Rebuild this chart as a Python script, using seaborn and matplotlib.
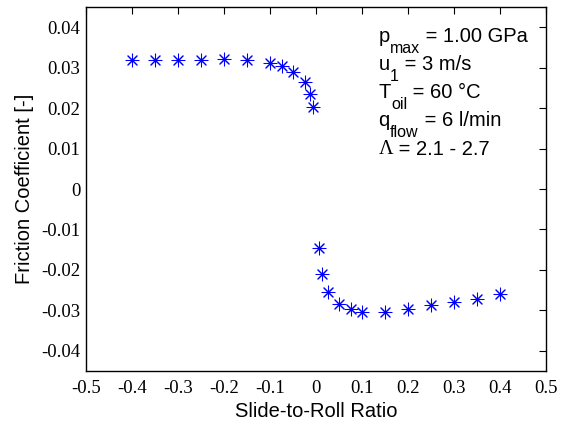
import numpy as np
import pandas as pd
import matplotlib
matplotlib.use("Agg")
import matplotlib.pyplot as plt
import seaborn as sns

# ---- data ----
slide_to_roll = [-0.40, -0.35, -0.30, -0.25, -0.20, -0.15, -0.10, -0.075, -0.05,
                 -0.025, -0.013, -0.006,
                 0.0065, 0.014, 0.026, 0.051, 0.075, 0.10, 0.15, 0.20, 0.25,
                 0.30, 0.35, 0.40]
friction = [0.0320, 0.0320, 0.0320, 0.0320, 0.0321, 0.0320, 0.0313, 0.0305, 0.0291,
            0.0265, 0.0235, 0.0204,
            -0.0145, -0.0211, -0.0254, -0.0285, -0.0298, -0.0304, -0.0304, -0.0298,
            -0.0287, -0.0280, -0.0272, -0.0260]

x_ticks = [-0.5, -0.4, -0.3, -0.2, -0.1, 0.0, 0.1, 0.2, 0.3, 0.4, 0.5]
x_tick_labels = ["-0.5", "-0.4", "-0.3", "-0.2", "-0.1", "0", "0.1", "0.2", "0.3", "0.4", "0.5"]
y_ticks = [-0.04, -0.03, -0.02, -0.01, 0.0, 0.01, 0.02, 0.03, 0.04]
y_tick_labels = ["-0.04", "-0.03", "-0.02", "-0.01", "0", "0.01", "0.02", "0.03", "0.04"]

# (symbol, subscript, remainder)
annot_symbols = ["p", "u", "T", "q", "\u039b"]
annot_subs = ["max", "1", "oil", "flow", ""]
annot_rest = [" = 1.00 GPa", " = 3 m/s", " = 60 \u00b0C", " = 6 l/min", " = 2.1 - 2.7"]

# ---- style ----
sns.set_theme(style="white")
plt.rcParams["font.family"] = ["Liberation Sans", "DejaVu Sans"]
plt.rcParams["axes.unicode_minus"] = False

fig = plt.figure(figsize=(5.63, 4.21), dpi=100)
ax = fig.add_axes([86 / 563, 1 - 370.7 / 421, 460 / 563, 363.4 / 421])

df = pd.DataFrame({"srr": slide_to_roll, "cof": friction})
sns.scatterplot(data=df, x="srr", y="cof", marker=(8, 2, 0), color="blue",
                s=85, linewidth=0.75, ax=ax, legend=False, zorder=3)

ax.set_xlim(-0.5, 0.5)
ax.set_ylim(-0.045, 0.045)
ax.set_xticks(x_ticks)
ax.set_xticklabels(x_tick_labels, fontfamily="Liberation Serif", fontsize=13.5)
ax.set_yticks(y_ticks)
ax.set_yticklabels(y_tick_labels, fontfamily="Liberation Serif", fontsize=13.5)
ax.tick_params(direction="in", top=True, right=True, length=5, width=0.8,
               color="black", labelcolor="black")
ax.tick_params(axis="x", pad=7)
ax.tick_params(axis="y", pad=4)
for sp in ax.spines.values():
    sp.set_color("black")
    sp.set_linewidth(1.0)

ax.set_xlabel("Slide-to-Roll Ratio", fontsize=14.5, color="black", labelpad=3)
ax.set_ylabel("Friction Coefficient [-]", fontsize=14.5, color="black", labelpad=5)

y0 = 0.0363
fs_main = 14.5
fs_sub = 11.5
for i, (sym, sub, rest) in enumerate(zip(annot_symbols, annot_subs, annot_rest)):
    fam = "Liberation Serif" if sym == "\u039b" else "Liberation Sans"
    t_main = ax.text(0.136, y0 - i * 0.0069, sym, fontsize=fs_main, color="black",
                     va="baseline", ha="left", family=fam)
    anchor = t_main
    if sub:
        t_sub = ax.annotate(sub, xy=(1, 0), xycoords=t_main, xytext=(0.3, -5.0),
                            textcoords="offset points", fontsize=fs_sub,
                            va="baseline", ha="left", color="black")
        anchor = t_sub
    ax.annotate(rest, xy=(1, 0), xycoords=(anchor, t_main), xytext=(0, 0),
                textcoords="offset points", fontsize=fs_main, va="bottom",
                ha="left", color="black")

fig.savefig("out.png", dpi=100)
